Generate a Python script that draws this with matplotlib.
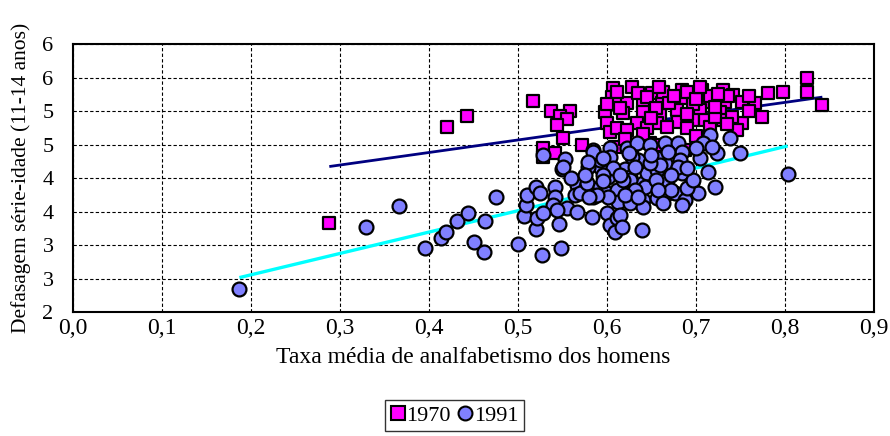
import numpy as np
import matplotlib
matplotlib.use("Agg")
import matplotlib.pyplot as plt
from matplotlib.ticker import FuncFormatter, MultipleLocator
from matplotlib.lines import Line2D

# -------------------------------
# Datos
# -------------------------------
x_1970 = [0.288, 0.420, 0.443, 0.517, 0.537, 0.558, 0.547, 0.555, 0.544, 0.551,
          0.528, 0.542, 0.528, 0.572,
          0.607, 0.606, 0.598, 0.600, 0.603, 0.609, 0.611, 0.628, 0.622, 0.640,
          0.651, 0.662, 0.684, 0.688, 0.707, 0.713, 0.730, 0.733,
          0.618, 0.640, 0.660, 0.679, 0.704, 0.727,
          0.611, 0.634, 0.656, 0.680, 0.697, 0.710, 0.730,
          0.622, 0.645, 0.667, 0.690, 0.716,
          0.742, 0.752, 0.766, 0.781, 0.798, 0.825, 0.825, 0.842,
          0.752, 0.774, 0.740, 0.746, 0.721,
          0.648, 0.660, 0.628, 0.688, 0.680,
          0.611, 0.663, 0.690, 0.716, 0.635, 0.645, 0.670, 0.697, 0.721, 0.736,
          0.615, 0.655, 0.675, 0.700, 0.725, 0.650, 0.690, 0.735, 0.760, 0.620,
          0.700, 0.640, 0.600, 0.658, 0.705, 0.760]
y_1970 = [3.33, 4.76, 4.93, 5.15, 5.00, 5.00, 4.93, 4.88, 4.79, 4.60,
          4.45, 4.37, 4.31, 4.49,
          5.34, 5.21, 4.99, 4.82, 4.69, 4.46, 5.19, 5.36, 5.12, 5.13,
          5.27, 5.12, 5.31, 5.19, 5.31, 5.13, 5.31, 5.13,
          4.97, 4.99, 4.94, 5.01, 5.01, 4.99,
          4.75, 4.82, 4.82, 4.84, 4.87, 4.87, 4.87,
          4.72, 4.75, 4.76, 4.75, 4.76,
          5.24, 5.13, 5.12, 5.27, 5.28, 5.49, 5.28, 5.09,
          4.82, 4.91, 4.91, 4.72, 4.91,
          4.52, 4.49, 4.46, 4.42, 4.39,
          5.28, 5.28, 5.28, 5.22, 5.27, 5.21, 5.12, 5.10, 5.06, 5.22,
          5.05, 5.05, 5.22, 5.18, 5.25, 4.90, 4.95, 4.80, 5.00, 4.58,
          4.62, 4.65, 5.10, 5.36, 5.36, 5.22]

x_1991 = [0.187, 0.329, 0.366, 0.396, 0.413, 0.419, 0.431, 0.444, 0.451, 0.462,
          0.463, 0.475, 0.500, 0.507, 0.509, 0.510, 0.527, 0.548, 0.546, 0.520,
          0.521, 0.520, 0.525, 0.542, 0.542, 0.539, 0.555, 0.566, 0.528, 0.553,
          0.549, 0.566, 0.564, 0.528, 0.544, 0.583, 0.576, 0.570, 0.584, 0.578,
          0.592, 0.600, 0.592, 0.579, 0.601, 0.600, 0.603, 0.609, 0.611, 0.620,
          0.637, 0.626, 0.611, 0.624, 0.612, 0.626, 0.640, 0.640, 0.640, 0.645,
          0.656, 0.665, 0.660, 0.656, 0.669, 0.676, 0.684, 0.696, 0.702, 0.688,
          0.684, 0.714, 0.721, 0.615, 0.617, 0.639, 0.584, 0.603, 0.622, 0.634,
          0.648, 0.665, 0.680, 0.684, 0.716, 0.708, 0.724, 0.738, 0.749, 0.803,
          0.592, 0.603, 0.635, 0.656, 0.660, 0.669, 0.682, 0.680, 0.626, 0.643,
          0.631, 0.601, 0.589, 0.580, 0.618, 0.620, 0.667, 0.672, 0.607, 0.628,
          0.648, 0.632, 0.551, 0.584, 0.579, 0.596, 0.655, 0.690, 0.697, 0.718,
          0.595, 0.615, 0.650, 0.672, 0.690, 0.705, 0.635, 0.657, 0.595, 0.625,
          0.560, 0.575, 0.700, 0.663]
y_1991 = [2.34, 3.27, 3.58, 2.96, 3.10, 3.19, 3.36, 3.48, 3.04, 2.90,
          3.36, 3.72, 3.01, 3.43, 3.60, 3.75, 2.85, 2.96, 3.31, 3.24,
          3.40, 3.87, 3.78, 3.87, 3.72, 3.60, 3.55, 3.49, 4.34, 4.28,
          4.13, 3.90, 3.75, 3.48, 3.52, 3.42, 3.87, 3.78, 3.72, 3.93,
          3.87, 3.78, 4.16, 4.16, 4.01, 3.48, 3.30, 3.19, 3.40, 4.13,
          4.24, 4.01, 3.82, 3.78, 3.64, 3.63, 3.67, 3.57, 3.93, 4.07,
          4.12, 4.22, 3.90, 3.70, 3.78, 3.78, 4.07, 3.94, 3.78, 3.67,
          3.60, 4.09, 3.87, 3.45, 3.27, 3.22, 4.42, 4.45, 4.45, 4.52,
          4.49, 4.52, 4.52, 4.39, 4.64, 4.52, 4.37, 4.60, 4.37, 4.06,
          4.27, 4.31, 4.27, 4.30, 4.20, 4.39, 4.27, 4.16, 3.97, 3.87,
          3.82, 3.72, 3.75, 3.72, 3.97, 3.75, 3.97, 3.82, 4.15, 4.31,
          4.22, 4.16, 4.16, 4.39, 4.24, 4.05, 3.97, 3.85, 3.97, 4.46,
          3.95, 4.05, 4.35, 4.05, 4.15, 4.30, 3.72, 3.82, 4.30, 4.38,
          4.00, 4.05, 4.45, 3.62]

# Tendencias lineales (pendiente, intercepto)
trend_1970 = (1.87, 3.633)
trend_1991 = (3.19, 1.917)

labels_series = ["1970", "1991"]

# -------------------------------
# Figura
# -------------------------------
plt.rcParams['font.family'] = ['Liberation Serif', 'DejaVu Serif']

fig = plt.figure(figsize=(8.9, 4.36), dpi=100)
ax = fig.add_axes([0.082, 0.2844, 0.9, 0.6146])

# lineas de tendencia (detrás de los marcadores)
for xs, (m, b), col, lw in [(x_1970, trend_1970, '#000080', 2.0),
                            (x_1991, trend_1991, '#00FFFF', 2.4)]:
    xx = np.array([min(xs), max(xs)])
    ax.plot(xx, m * xx + b, color=col, lw=lw, zorder=2, solid_capstyle='butt')

ax.scatter(x_1970, y_1970, marker='s', s=80, facecolor='#FF00FF',
           edgecolor='black', linewidth=1.6, zorder=3)
ax.scatter(x_1991, y_1991, marker='o', s=100, facecolor='#8080FF',
           edgecolor='black', linewidth=1.6, zorder=4)

ax.set_xlim(0, 0.9)
ax.set_ylim(2, 6)
ax.xaxis.set_major_locator(MultipleLocator(0.1))
ax.yaxis.set_major_locator(MultipleLocator(0.5))
ax.xaxis.set_major_formatter(FuncFormatter(lambda v, p: f"{v:.1f}".replace('.', ',')))
ax.yaxis.set_major_formatter(FuncFormatter(lambda v, p: f"{int(np.floor(v + 0.5))}"))
ax.tick_params(axis='x', length=0, labelsize=17, pad=4)
ax.tick_params(axis='y', length=0, labelsize=16, pad=14)

ax.grid(True, color='black', linestyle=(0, (3, 2)), linewidth=0.8)
ax.set_axisbelow(True)
for sp in ax.spines.values():
    sp.set_linewidth(1.5)

ax.set_xlabel("Taxa média de analfabetismo dos homens", fontsize=17, labelpad=6)
ax.set_ylabel("Defasagem série-idade (11-14 anos)", fontsize=15.5, labelpad=8)

handles = [Line2D([], [], marker='s', ls='none', markersize=10, markerfacecolor='#FF00FF',
                  markeredgecolor='black', markeredgewidth=1.5),
           Line2D([], [], marker='o', ls='none', markersize=10, markerfacecolor='#8080FF',
                  markeredgecolor='black', markeredgewidth=1.5)]
leg = fig.legend(handles, labels_series, loc='center', bbox_to_anchor=(0.511, 0.047),
                 ncol=2, fontsize=16, frameon=True, fancybox=False, handlelength=0.6,
                 handletextpad=0.1, columnspacing=0.35, borderpad=0.25, borderaxespad=0)
leg.get_frame().set_edgecolor('black')
leg.get_frame().set_linewidth(1.0)

fig.savefig("out.png", dpi=100)
